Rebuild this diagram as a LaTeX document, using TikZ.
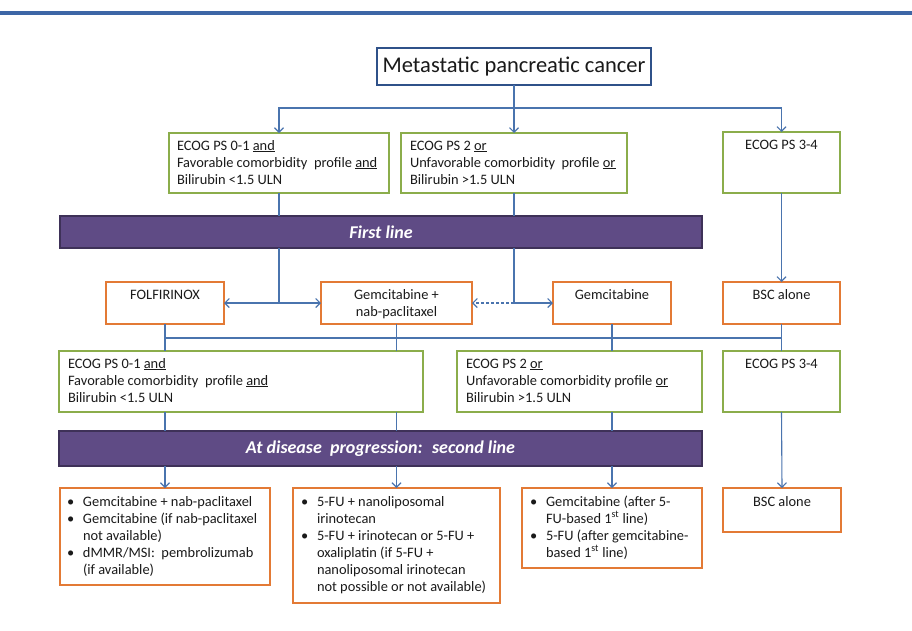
\documentclass[tikz,border=0pt]{standalone}
\usepackage{fontspec}
\setmainfont{Carlito}
\usetikzlibrary{arrows.meta}
\definecolor{cgreen}{HTML}{8BAD4B}
\definecolor{corange}{HTML}{E37A35}
\definecolor{cpurple}{HTML}{5F4B85}
\definecolor{cpline}{HTML}{3E3158}
\definecolor{cline}{HTML}{4A74AE}
\definecolor{ctitle}{HTML}{2F5189}
\definecolor{ctop}{HTML}{3D66A6}
\definecolor{ctext}{HTML}{1A1A1A}
\newcommand{\mylines}[2][l]{\begin{tabular}[t]{@{}#1@{}}#2\end{tabular}}
\newcommand{\myblist}[1]{\begin{tabular}[t]{@{}p{16pt}@{}l@{}}#1\end{tabular}}
\newcommand{\mybu}{\textbullet}
\begin{document}
\begin{tikzpicture}[x=1pt,y=-1pt,
 box/.style={draw, fill=white, inner sep=0pt, outer sep=0pt, anchor=north west},
 gbox/.style={box, draw=cgreen, line width=2pt},
 obox/.style={box, draw=corange, line width=2.4pt},
 tbox/.style={box, draw=ctitle, line width=2.2pt, text=ctext, font=\fontsize{22.5}{26}\selectfont},
 bar/.style={box, draw=cpline, fill=cpurple, line width=1.2pt},
 txt/.style={inner sep=0pt, outer sep=0pt, text=ctext, font=\fontsize{14.4}{17}\selectfont, anchor=base west},
 ctxt/.style={txt, anchor=base},
 bartxt/.style={inner sep=0pt, text=white, font=\fontsize{18}{21}\selectfont\bfseries\itshape},
 conn/.style={draw=cline, line width=1.1pt},
 arr/.style={conn, -{Straight Barb[length=4.5pt,width=9pt,line width=1.1pt]}},
]
\useasboundingbox (0,0) rectangle (912,630);
\fill[white] (0,0) rectangle (912,630);
\draw[ctop, line width=3.5pt] (0,13) -- (912,13);

% title
\node[tbox, minimum width=274pt, minimum height=37pt] (title) at (377,48) {Metastatic pancreatic cancer};

% level 1
\node[gbox, minimum width=220pt, minimum height=60pt] (e1a) at (169,133) {};
\node[txt] (e1at) at ([shift={(8,17)}]e1a.north west) {\mylines{ECOG PS 0-1 \underline{and}\\ Favorable comorbidity~ profile \underline{and}\\ Bilirubin <1.5 ULN}};
\node[gbox, minimum width=226pt, minimum height=60pt] (e1b) at (401,133) {};
\node[txt] (e1bt) at ([shift={(9,17)}]e1b.north west) {\mylines{ECOG PS 2 \underline{or}\\ Unfavorable comorbidity~ profile \underline{or}\\ Bilirubin >1.5 ULN}};
\node[gbox, minimum width=117pt, minimum height=61pt] (e1c) at (723,132) {};
\node[ctxt] (e1ct) at ([shift={(0,17)}]e1c.north) {ECOG PS 3-4};

% first line bar
\node[bar, minimum width=642pt, minimum height=32pt] (bar1) at (60,216) {};
\node[bartxt] (bar1t) at (bar1.center) {First line};

% level 2
\node[obox, minimum width=118pt, minimum height=42pt] (folf) at (106,282) {};
\node[ctxt] (folft) at ([shift={(0,17)}]folf.north) {FOLFIRINOX};
\node[obox, minimum width=151pt, minimum height=42pt] (gnab) at (321,282) {};
\node[ctxt] (gnabt) at ([shift={(0,17)}]gnab.north) {\mylines[c]{Gemcitabine +\\ nab-paclitaxel}};
\node[obox, minimum width=118pt, minimum height=42pt] (gem) at (553,282) {};
\node[ctxt] (gemt) at ([shift={(0,17)}]gem.north) {Gemcitabine};
\node[obox, minimum width=117pt, minimum height=42pt] (bsc1) at (723,282) {};
\node[ctxt] (bsc1t) at ([shift={(0,17)}]bsc1.north) {BSC alone};

% level 3
\node[gbox, minimum width=364pt, minimum height=61pt] (e2a) at (59,351) {};
\node[txt] (e2at) at ([shift={(9,17)}]e2a.north west) {\mylines{ECOG PS 0-1 \underline{and}\\ Favorable comorbidity~ profile \underline{and}\\ Bilirubin <1.5 ULN}};
\node[gbox, minimum width=245pt, minimum height=61pt] (e2b) at (457,351) {};
\node[txt] (e2bt) at ([shift={(9,17)}]e2b.north west) {\mylines{ECOG PS 2 \underline{or}\\ Unfavorable comorbidity profile \underline{or}\\ Bilirubin >1.5 ULN}};
\node[gbox, minimum width=117pt, minimum height=61pt] (e2c) at (723,351) {};
\node[ctxt] (e2ct) at ([shift={(0,17)}]e2c.north) {ECOG PS 3-4};

% second line bar
\node[bar, minimum width=643pt, minimum height=35pt] (bar2) at (59,431) {};
\node[bartxt] (bar2t) at (bar2.center) {At disease~ progression:~ second line};

% level 4
\node[obox, minimum width=210pt, minimum height=97pt] (t4a) at (60,488) {};
\node[txt] (t4at) at ([shift={(7,18)}]t4a.north west) {\myblist{\mybu & Gemcitabine + nab-paclitaxel\\ \mybu & Gemcitabine (if nab-paclitaxel\\ & not available)\\ \mybu & dMMR/MSI:~ pembrolizumab\\ & (if available)}};
\node[obox, minimum width=207pt, minimum height=115pt] (t4b) at (293,488) {};
\node[txt] (t4bt) at ([shift={(8,18)}]t4b.north west) {\myblist{\mybu & 5-FU + nanoliposomal\\ & irinotecan\\ \mybu & 5-FU + irinotecan or 5-FU +\\ & oxaliplatin (if 5-FU +\\ & nanoliposomal irinotecan\\ & not possible or not available)}};
\node[obox, minimum width=180pt, minimum height=80pt] (t4c) at (522,488) {};
\node[txt] (t4ct) at ([shift={(8,18)}]t4c.north west) {\myblist{\mybu & Gemcitabine (after 5-\\ & FU-based 1\textsuperscript{st} line)\\ \mybu & 5-FU (after gemcitabine-\\ & based 1\textsuperscript{st} line)}};
\node[obox, minimum width=118pt, minimum height=44pt] (t4d) at (723,488) {};
\node[ctxt] (t4dt) at ([shift={(0,18)}]t4d.north) {BSC alone};

% connectors
\coordinate (j0) at (514,108);
\coordinate (bus) at (0,338);
\draw[arr] (title.south) -- (e1b.north);
\draw[arr] (title.south |- j0) -| (e1a.north);
\draw[arr] (title.south |- j0) -| (e1c.north);
\draw[conn] (e1a.south) -- (e1a.south |- bar1.north);
\draw[conn] (e1b.south) -- (e1b.south |- bar1.north);
\draw[arr] (e1c.south) -- (bsc1.north);

\coordinate (k1) at (e1a.south |- folf.east);
\coordinate (k2) at (e1b.south |- gem.west);
\draw[conn] (bar1.south -| k1) -- (k1);
\draw[arr] (k1) -- (folf.east);
\draw[arr] (k1) -- (gnab.west);
\draw[conn] (bar1.south -| k2) -- (k2);
\draw[arr] (k2) -- (gem.west);
\draw[arr, dash pattern=on 3pt off 2pt] (k2) -- (gnab.east);

\draw[conn] (folf.south |- bus) -- (bsc1.south |- bus);
\draw[conn] (folf.south) -- (folf.south |- e2a.north);
\draw[conn] (gnab.south) -- (gnab.south |- e2a.north);
\draw[conn] (gem.south) -- (gem.south |- e2b.north);
\draw[conn] (bsc1.south) -- (e2c.north);

\draw[conn] (folf.south |- e2a.south) -- (folf.south |- bar2.north);
\draw[conn] (gnab.south |- e2a.south) -- (gnab.south |- bar2.north);
\draw[conn] (gem.south |- e2b.south) -- (gem.south |- bar2.north);
\draw[arr] (e2c.south) -- (t4d.north);

\draw[arr] (bar2.south -| t4a.north) -- (t4a.north);
\draw[arr] (bar2.south -| t4b.north) -- (t4b.north);
\draw[arr] (bar2.south -| t4c.north) -- (t4c.north);
\end{tikzpicture}
\end{document}
